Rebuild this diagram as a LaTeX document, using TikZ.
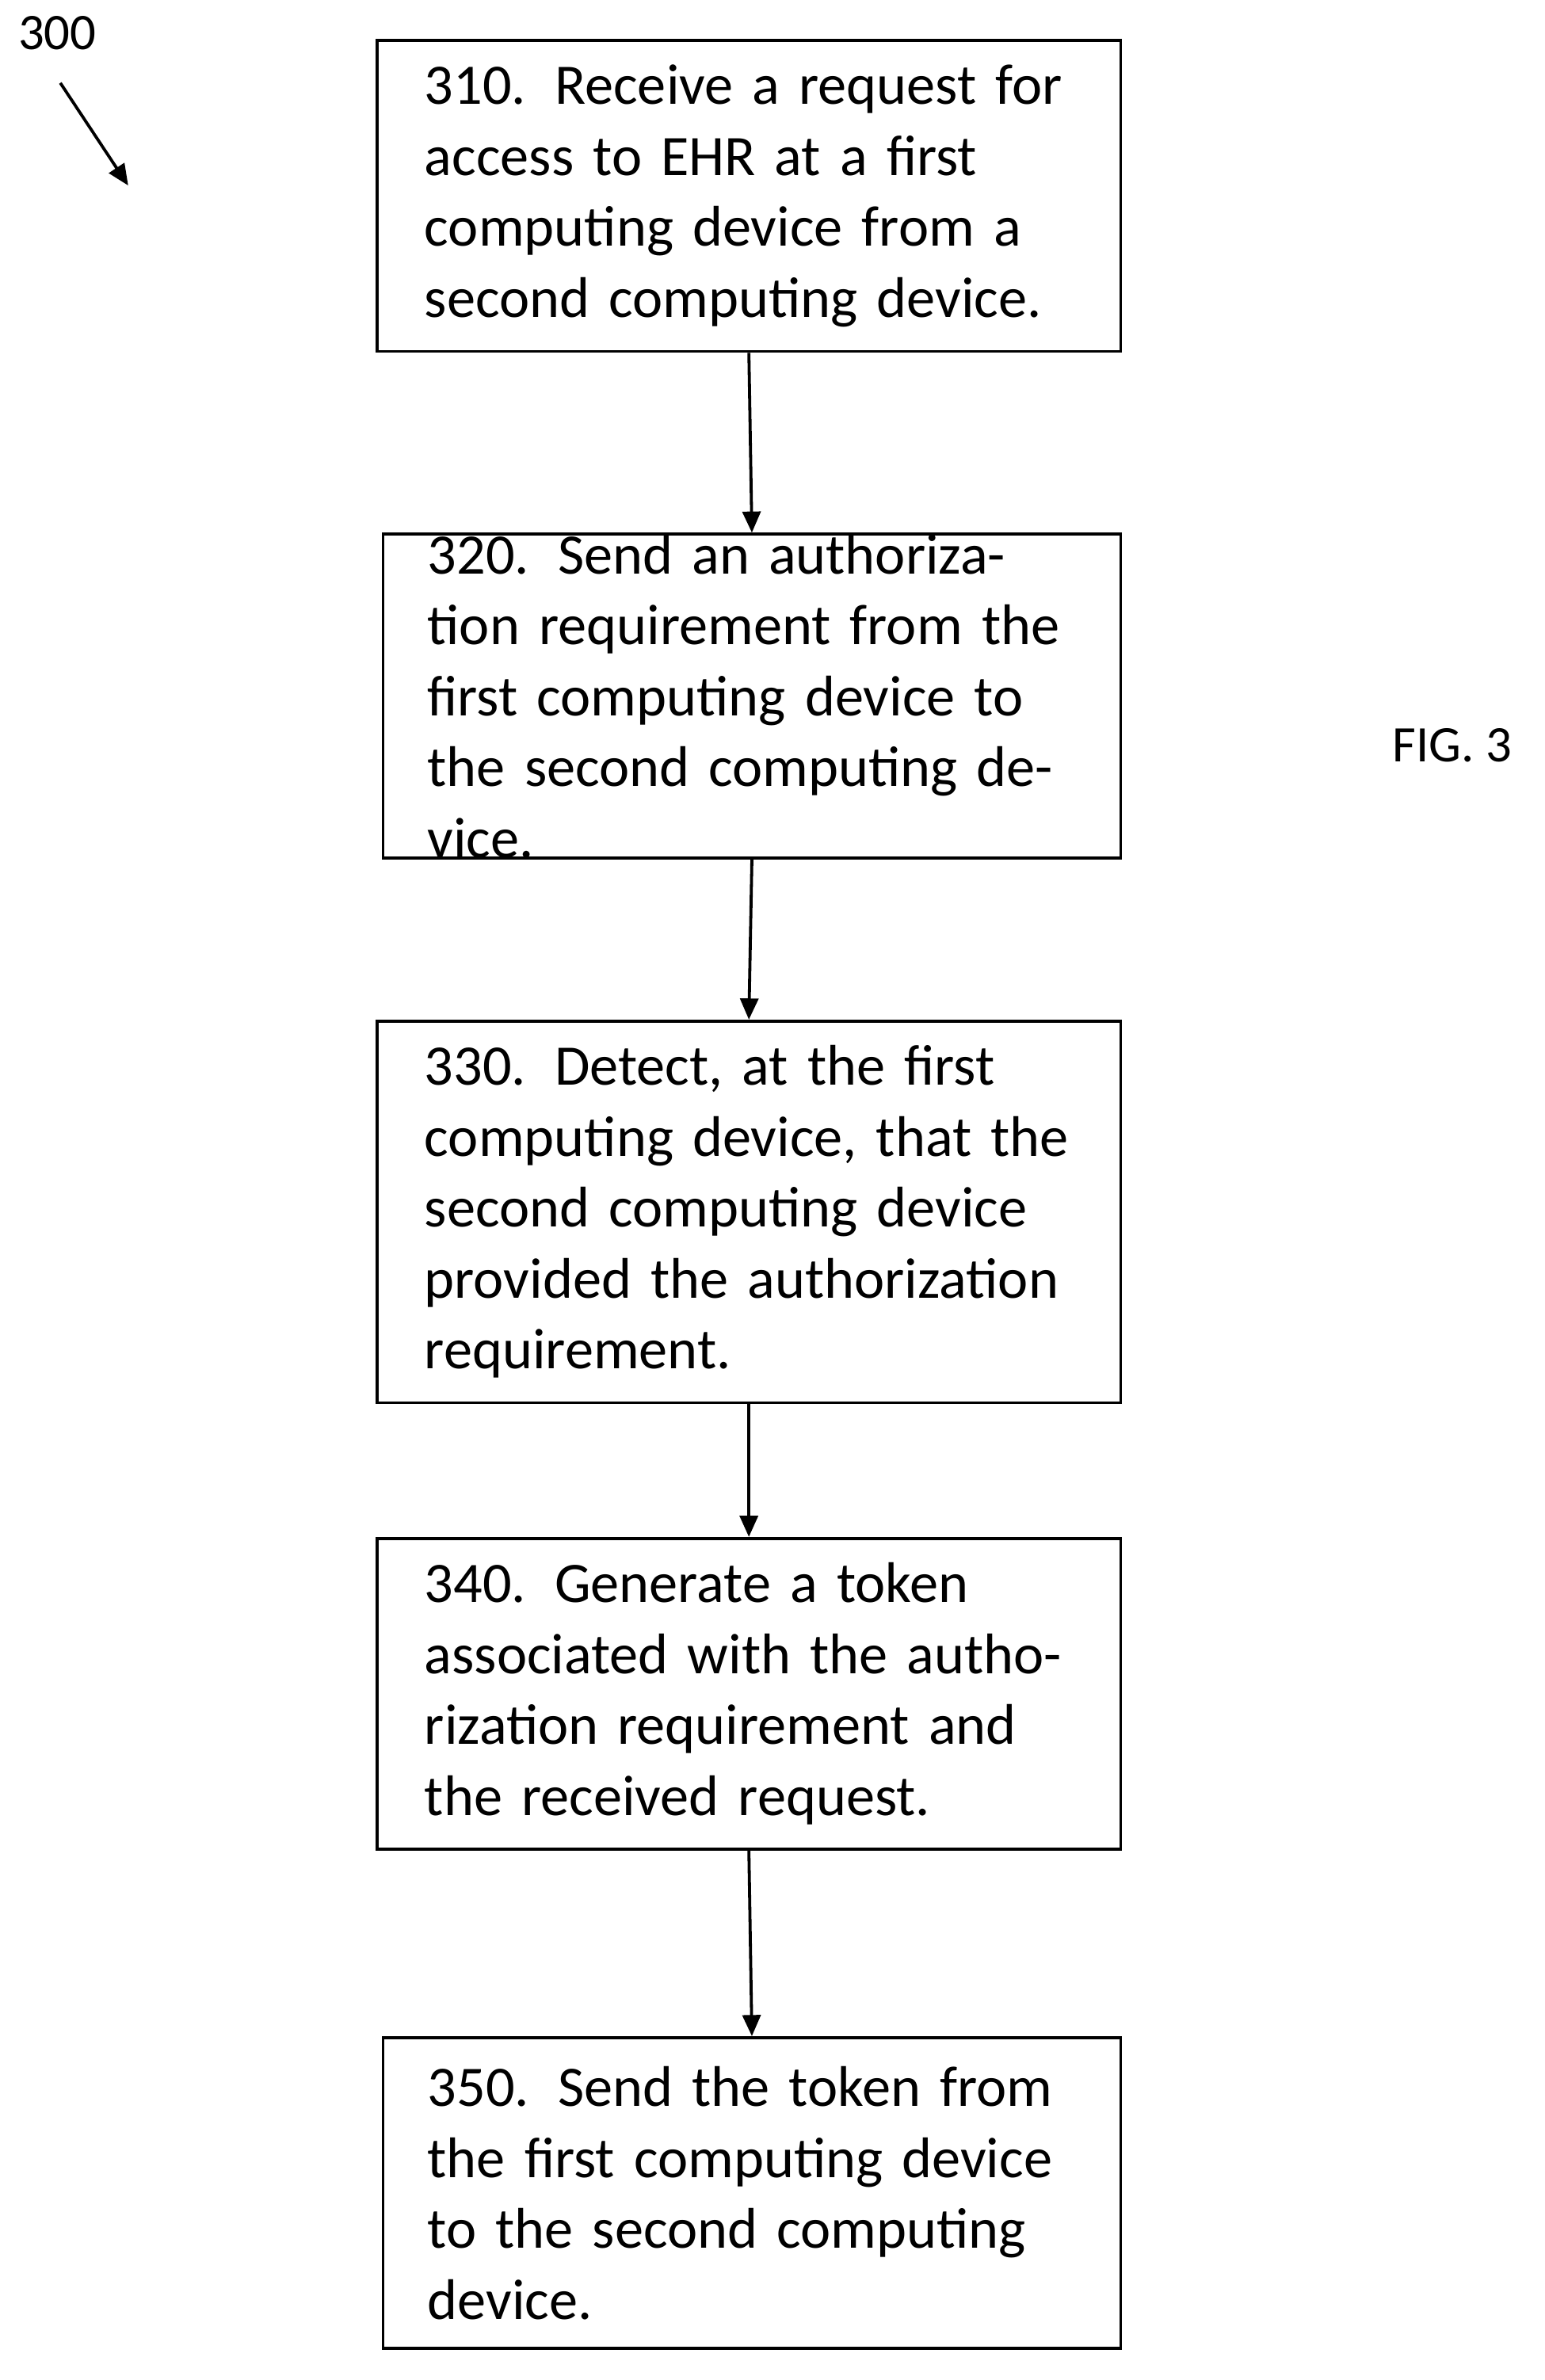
\documentclass[tikz,border=0pt]{standalone}
\usepackage{fontspec}
\setmainfont{Carlito}
\usetikzlibrary{arrows.meta}
\begin{document}
\begin{tikzpicture}[x=0.5pt,y=-0.5pt,
  box/.style={draw,line width=1pt,inner sep=0pt,align=left,font=\fontsize{19}{23.5}\selectfont,text width=#1},
  arr/.style={-{Triangle[length=7pt,width=6pt]},line width=1pt}]
\useasboundingbox (0,0) rectangle (1024,1578);
\node[box=215pt,minimum width=246.5pt,minimum height=103pt] (b1) at (496.5,130) {310. Receive a request for access to EHR at a first computing device from a second computing device.};
\node[box=215pt,minimum width=244.5pt,minimum height=106.5pt] (b2) at (498.5,461.5) {320. Send an authorization requirement from the first computing device to the second computing device.};
\node[box=215pt,minimum width=246.5pt,minimum height=126.5pt] (b3) at (496.5,803.5) {330. Detect, at the first computing device, that the second computing device provided the authorization requirement.};
\node[box=215pt,minimum width=246.5pt,minimum height=103pt] (b4) at (496.5,1123) {340. Generate a token associated with the authorization requirement and the received request.};
\node[box=215pt,minimum width=244.5pt,minimum height=103pt] (b5) at (498.5,1454) {350. Send the token from the first computing device to the second computing device.};
\draw[arr] (b1.south) -- (b2.north);
\draw[arr] (b2.south) -- (b3.north);
\draw[arr] (b3.south) -- (b4.north);
\draw[arr] (b4.south) -- (b5.north);
\node[font=\fontsize{17}{20}\selectfont] (fig) at (963,494) {FIG. 3};
\node[font=\fontsize{17}{20}\selectfont] (lbl) at (38,22) {300};
\coordinate (a1) at (40,55);
\coordinate (a2) at (85,123);
\draw[arr] (a1) -- (a2);
\end{tikzpicture}
\end{document}
